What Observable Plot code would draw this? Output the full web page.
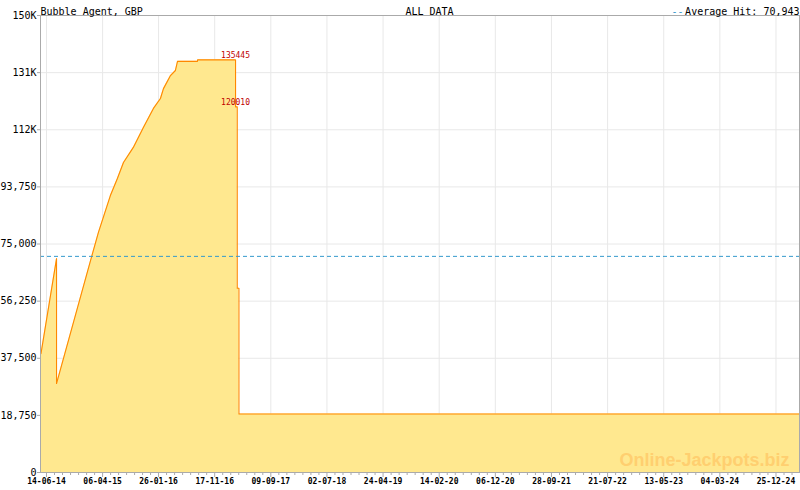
<!DOCTYPE html>
<html>
<head>
<meta charset="utf-8">
<script src="https://cdn.jsdelivr.net/npm/d3@7"></script>
<script src="https://cdn.jsdelivr.net/npm/@observablehq/plot@0.6"></script>
<style>
  html, body { margin: 0; padding: 0; background: #ffffff; }
  #chart { width: 800px; height: 490px; }
</style>
</head>
<body>
<div id="chart"></div>
<script>
// ---- Data ----
const title = "Bubble Agent, GBP";
const subtitle = "ALL DATA";
const averageHit = 70943;
const averageLabel = "Average Hit: 70,943";
const watermark = "Online-Jackpots.biz";

const dates = [
  "2014-05-16", "2014-08-06", "2014-08-06", "2015-02-06", "2015-03-15",
  "2015-05-17", "2015-06-23", "2015-07-25", "2015-09-15", "2015-11-07",
  "2015-12-30", "2016-02-05", "2016-02-21", "2016-03-29", "2016-04-24",
  "2016-05-05", "2016-08-18", "2016-08-19", "2017-03-07", "2017-03-07",
  "2017-03-16", "2017-03-16", "2017-03-25", "2017-03-25", "2025-04-28"
];
const values = [
  39000, 70200, 29200, 70600, 78800,
  90900, 96500, 101750, 106700, 113250,
  119500, 122750, 126000, 130300, 131950,
  134950, 134950, 135445, 135445, 120010,
  120010, 60500, 60500, 19200, 19200
];

const labelDates = ["2017-03-07", "2017-03-07"];
const labelValues = [135445, 120010];
const labelTexts = ["135445", "120010"];

const xTickDates = [
  "2014-06-14", "2015-04-06", "2016-01-26", "2016-11-17", "2017-09-09",
  "2018-07-02", "2019-04-24", "2020-02-14", "2020-12-06", "2021-09-28",
  "2022-07-21", "2023-05-13", "2024-03-04", "2024-12-25"
];
const xDomain = ["2014-05-13T10:00:00Z", "2025-04-28T00:00:00Z"];

const yTicks = [0, 18750, 37500, 56250, 75000, 93750, 112500, 131250, 150000];
const yTickLabels = ["0", "18,750", "37,500", "56,250", "75,000", "93,750", "112K", "131K", "150K"];

// ---- Build tables ----
const data = dates.map((d, i) => ({date: new Date(d), value: values[i]}));
const peakLabels = labelDates.map((d, i) => ({date: new Date(d), value: labelValues[i], text: labelTexts[i]}));
const majorTicks = xTickDates.map(d => new Date(d));
const domain = xDomain.map(d => new Date(d));

// minor ticks: 7 subdivisions per major interval
const minorTicks = [];
for (let i = 0; i < majorTicks.length - 1; i++) {
  const a = +majorTicks[i], b = +majorTicks[i + 1];
  for (let k = 1; k < 7; k++) minorTicks.push(new Date(a + (b - a) * k / 7));
}
{
  const n = majorTicks.length;
  const step = (+majorTicks[n - 1] - +majorTicks[0]) / ((n - 1) * 7);
  for (let t = +majorTicks[n - 1] + step; t <= +domain[1]; t += step) minorTicks.push(new Date(t));
}

const mono = "DejaVu Sans Mono";
const fmt = d3.utcFormat("%d-%m-%y");

const chart = Plot.plot({
  width: 800,
  height: 490,
  marginLeft: 40,
  marginRight: 1,
  marginTop: 15,
  marginBottom: 18,
  style: {fontFamily: mono, fontSize: "10px", background: "#ffffff", color: "#000"},
  x: {type: "utc", domain},
  y: {domain: [0, 150000]},
  marks: [
    Plot.gridX(majorTicks, {stroke: "#e8e8e8", strokeOpacity: 1}),
    Plot.gridY(yTicks.slice(1), {stroke: "#e8e8e8", strokeOpacity: 1}),
    Plot.area(data, {x1: "date", y1: 0, y2: "value", fill: "#ffe88f"}),
    Plot.line(data, {x: "date", y: "value", stroke: "#ff8800", strokeWidth: 1.1}),
    Plot.ruleY([averageHit], {stroke: "#3399cc", strokeDasharray: "4,3", strokeWidth: 1}),
    Plot.text([watermark], {
      text: d => d, frameAnchor: "bottom-right", textAnchor: "end", lineAnchor: "bottom",
      dx: -10, dy: -7, fontSize: 18, fontWeight: "bold", fontFamily: "Liberation Sans", fill: "#ffcf70"
    }),
    Plot.text(peakLabels, {
      x: "date", y: "value", text: "text", fill: "#c00000", fontSize: 8, dy: -4, fontFamily: mono
    }),
    Plot.axisX(minorTicks, {tickSize: 3, tickFormat: () => "", stroke: "#aaaaaa", label: null}),
    Plot.axisX(majorTicks, {
      tickSize: 5, tickPadding: 1, tickFormat: fmt, fontSize: 8, fontWeight: "bold",
      stroke: "#aaaaaa", fill: "#000", label: null
    }),
    Plot.axisY(yTicks, {
      tickSize: 3, tickPadding: 1, tickFormat: d => yTickLabels[yTicks.indexOf(d)],
      fontSize: 10, stroke: "#aaaaaa", fill: "#000", label: null
    }),
    Plot.frame({stroke: "#aaaaaa"}),
    Plot.text([title], {text: d => d, frameAnchor: "top-left", textAnchor: "start", dy: -8, fontSize: 10, fill: "#000"}),
    Plot.text([subtitle], {text: d => d, frameAnchor: "top", dx: 9.5, dy: -8, fontSize: 10, fill: "#000"}),
    Plot.text([averageLabel], {text: d => d, frameAnchor: "top-right", textAnchor: "end", dy: -8, fontSize: 10, fill: "#000"}),
    Plot.text(["--"], {text: d => d, frameAnchor: "top-right", textAnchor: "end", dx: -116, dy: -8, fontSize: 10, fill: "#3399cc"})
  ]
});

document.getElementById("chart").appendChild(chart);
</script>
</body>
</html>
